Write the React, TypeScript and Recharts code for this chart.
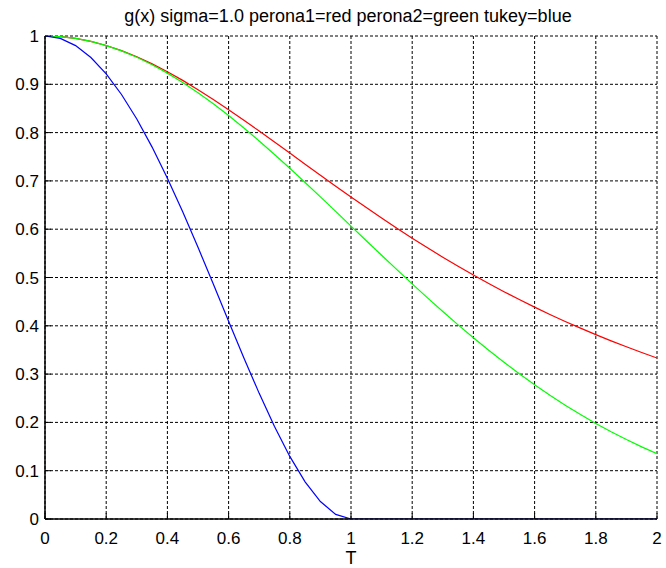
import React from 'react';
import { LineChart, Line, XAxis, YAxis, CartesianGrid } from 'recharts';

const xValues = [
  0, 0.05, 0.1, 0.15, 0.2, 0.25, 0.3, 0.35, 0.4, 0.45, 0.5, 0.55, 0.6, 0.65, 0.7, 0.75, 0.8, 0.85, 0.9, 0.95,
  1.0, 1.05, 1.1, 1.15, 1.2, 1.25, 1.3, 1.35, 1.4, 1.45, 1.5, 1.55, 1.6, 1.65, 1.7, 1.75, 1.8, 1.85, 1.9, 1.95, 2.0,
];

const perona1 = [
  1, 0.9988, 0.995, 0.9889, 0.9804, 0.9697, 0.9569, 0.9423, 0.9259, 0.9081, 0.8889, 0.8686, 0.8475, 0.8256, 0.8032,
  0.7805, 0.7576, 0.7346, 0.7117, 0.6891, 0.6667, 0.6447, 0.6231, 0.602, 0.5814, 0.5614, 0.542, 0.5232, 0.5051,
  0.4875, 0.4706, 0.4543, 0.4386, 0.4235, 0.409, 0.3951, 0.3817, 0.3688, 0.3565, 0.3447, 0.3333,
];

const perona2 = [
  1, 0.9988, 0.995, 0.9888, 0.9802, 0.9692, 0.956, 0.9406, 0.9231, 0.9037, 0.8825, 0.8596, 0.8353, 0.8096, 0.7827,
  0.7548, 0.7261, 0.6968, 0.667, 0.6368, 0.6065, 0.5762, 0.5461, 0.5162, 0.4868, 0.4578, 0.4296, 0.402, 0.3753,
  0.3495, 0.3247, 0.3008, 0.278, 0.2563, 0.2357, 0.2163, 0.1979, 0.1806, 0.1645, 0.1494, 0.1353,
];

const tukey = [
  1, 0.995, 0.9801, 0.9555, 0.9216, 0.8789, 0.8281, 0.77, 0.7056, 0.636, 0.5625, 0.4865, 0.4096, 0.3335, 0.2601,
  0.1914, 0.1296, 0.077, 0.0361, 0.0095, 0, 0, 0, 0, 0, 0, 0, 0, 0, 0, 0, 0, 0, 0, 0, 0, 0, 0, 0, 0, 0,
];

const xTicks = [0, 0.2, 0.4, 0.6, 0.8, 1, 1.2, 1.4, 1.6, 1.8, 2];
const yTicks = [0, 0.1, 0.2, 0.3, 0.4, 0.5, 0.6, 0.7, 0.8, 0.9, 1];

const titleText = 'g(x) sigma=1.0 perona1=red perona2=green tukey=blue';
const xLabel = 'T';

const data = xValues.map((x, i) => ({ x, perona1: perona1[i], perona2: perona2[i], tukey: tukey[i] }));

const FONT = '"Liberation Sans", Arial, Helvetica, sans-serif';

export default function App() {
  return (
    <div style={{ position: 'absolute', left: 0, top: 0, width: 666, height: 568, background: '#fff', fontFamily: FONT }}>
      <div
        style={{
          position: 'absolute',
          left: 0,
          top: 6,
          width: 696,
          textAlign: 'center',
          fontSize: 18,
          lineHeight: '20px',
          color: '#000',
        }}
      >
        {titleText}
      </div>
      <LineChart width={666} height={568} data={data} margin={{ top: 36, right: 9, left: 5, bottom: 0 }}>
        <CartesianGrid stroke="#000" strokeDasharray="3 2" strokeWidth={1} />
        <XAxis
          dataKey="x"
          type="number"
          domain={[0, 2]}
          ticks={xTicks}
          height={49}
          stroke="#000"
          strokeWidth={1.5}
          tickSize={-6}
          tickMargin={19}
          tick={{ fill: '#000', fontSize: 17, fontFamily: FONT }}
          tickLine={{ stroke: '#000', strokeWidth: 1 }}
          interval={0}
          allowDataOverflow
          label={{ value: xLabel, position: 'insideBottom', offset: 4, fill: '#000', fontSize: 18, fontFamily: FONT }}
        />
        <XAxis
          xAxisId="top"
          dataKey="x"
          type="number"
          orientation="top"
          domain={[0, 2]}
          ticks={xTicks}
          height={0}
          stroke="#000"
          strokeWidth={1.5}
          tickSize={-6}
          tick={false}
          tickLine={{ stroke: '#000', strokeWidth: 1 }}
          interval={0}
          allowDataOverflow
        />
        <YAxis
          type="number"
          domain={[0, 1]}
          ticks={yTicks}
          width={40}
          stroke="#000"
          strokeWidth={1.5}
          tickSize={-6}
          tickMargin={12}
          tick={{ fill: '#000', fontSize: 17, fontFamily: FONT }}
          tickLine={{ stroke: '#000', strokeWidth: 1 }}
          interval={0}
          allowDataOverflow
        />
        <YAxis
          yAxisId="right"
          type="number"
          orientation="right"
          domain={[0, 1]}
          ticks={yTicks}
          width={0}
          stroke="#000"
          strokeWidth={1.5}
          tickSize={-6}
          tick={false}
          tickLine={{ stroke: '#000', strokeWidth: 1 }}
          interval={0}
          allowDataOverflow
        />
        <Line type="linear" dataKey="perona1" stroke="#ff0000" strokeWidth={1.2} dot={false} isAnimationActive={false} />
        <Line type="linear" dataKey="perona2" stroke="#00ff00" strokeWidth={1.2} dot={false} isAnimationActive={false} />
        <Line type="linear" dataKey="tukey" stroke="#0000ff" strokeWidth={1.2} dot={false} isAnimationActive={false} />
      </LineChart>
    </div>
  );
}
